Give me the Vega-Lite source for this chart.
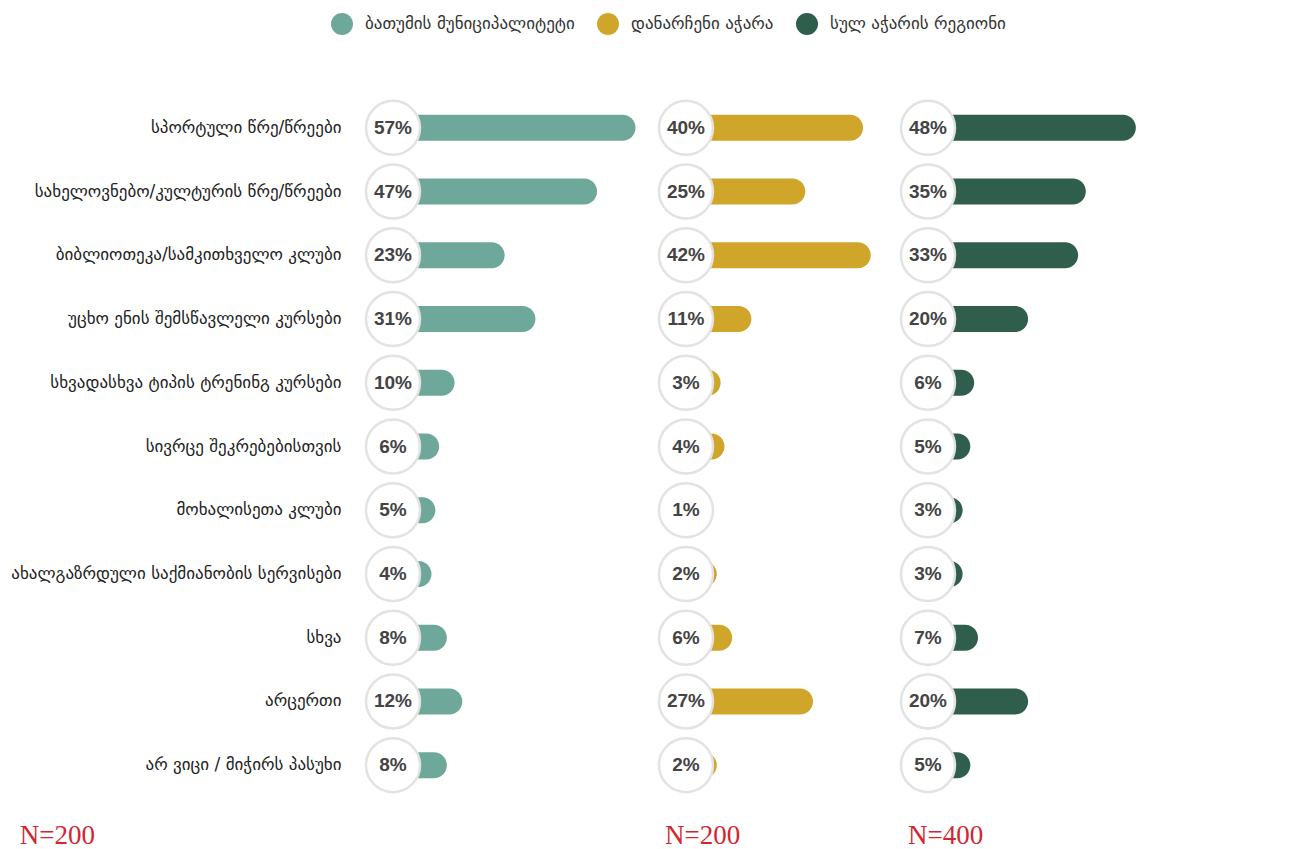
{
  "$schema": "https://vega.github.io/schema/vega-lite/v6.json",
  "background": "white",
  "padding": {"left": 10, "top": 13, "right": 0, "bottom": 0},
  "autosize": {"type": "pad"},
  "bounds": "flush",
  "spacing": 0,
  "config": {"view": {"stroke": null}},
  "datasets": {"d": [
    {"cat": "სპორტული წრე/წრეები", "grp": "ბათუმის მუნიციპალიტეტი", "v": 0.57},
    {"cat": "სპორტული წრე/წრეები", "grp": "დანარჩენი აჭარა", "v": 0.40},
    {"cat": "სპორტული წრე/წრეები", "grp": "სულ აჭარის რეგიონი", "v": 0.48},
    {"cat": "სახელოვნებო/კულტურის წრე/წრეები", "grp": "ბათუმის მუნიციპალიტეტი", "v": 0.47},
    {"cat": "სახელოვნებო/კულტურის წრე/წრეები", "grp": "დანარჩენი აჭარა", "v": 0.25},
    {"cat": "სახელოვნებო/კულტურის წრე/წრეები", "grp": "სულ აჭარის რეგიონი", "v": 0.35},
    {"cat": "ბიბლიოთეკა/სამკითხველო კლუბი", "grp": "ბათუმის მუნიციპალიტეტი", "v": 0.23},
    {"cat": "ბიბლიოთეკა/სამკითხველო კლუბი", "grp": "დანარჩენი აჭარა", "v": 0.42},
    {"cat": "ბიბლიოთეკა/სამკითხველო კლუბი", "grp": "სულ აჭარის რეგიონი", "v": 0.33},
    {"cat": "უცხო ენის შემსწავლელი კურსები", "grp": "ბათუმის მუნიციპალიტეტი", "v": 0.31},
    {"cat": "უცხო ენის შემსწავლელი კურსები", "grp": "დანარჩენი აჭარა", "v": 0.11},
    {"cat": "უცხო ენის შემსწავლელი კურსები", "grp": "სულ აჭარის რეგიონი", "v": 0.20},
    {"cat": "სხვადასხვა ტიპის ტრენინგ კურსები", "grp": "ბათუმის მუნიციპალიტეტი", "v": 0.10},
    {"cat": "სხვადასხვა ტიპის ტრენინგ კურსები", "grp": "დანარჩენი აჭარა", "v": 0.03},
    {"cat": "სხვადასხვა ტიპის ტრენინგ კურსები", "grp": "სულ აჭარის რეგიონი", "v": 0.06},
    {"cat": "სივრცე შეკრებებისთვის", "grp": "ბათუმის მუნიციპალიტეტი", "v": 0.06},
    {"cat": "სივრცე შეკრებებისთვის", "grp": "დანარჩენი აჭარა", "v": 0.04},
    {"cat": "სივრცე შეკრებებისთვის", "grp": "სულ აჭარის რეგიონი", "v": 0.05},
    {"cat": "მოხალისეთა კლუბი", "grp": "ბათუმის მუნიციპალიტეტი", "v": 0.05},
    {"cat": "მოხალისეთა კლუბი", "grp": "დანარჩენი აჭარა", "v": 0.01},
    {"cat": "მოხალისეთა კლუბი", "grp": "სულ აჭარის რეგიონი", "v": 0.03},
    {"cat": "ახალგაზრდული საქმიანობის სერვისები", "grp": "ბათუმის მუნიციპალიტეტი", "v": 0.04},
    {"cat": "ახალგაზრდული საქმიანობის სერვისები", "grp": "დანარჩენი აჭარა", "v": 0.02},
    {"cat": "ახალგაზრდული საქმიანობის სერვისები", "grp": "სულ აჭარის რეგიონი", "v": 0.03},
    {"cat": "სხვა", "grp": "ბათუმის მუნიციპალიტეტი", "v": 0.08},
    {"cat": "სხვა", "grp": "დანარჩენი აჭარა", "v": 0.06},
    {"cat": "სხვა", "grp": "სულ აჭარის რეგიონი", "v": 0.07},
    {"cat": "არცერთი", "grp": "ბათუმის მუნიციპალიტეტი", "v": 0.12},
    {"cat": "არცერთი", "grp": "დანარჩენი აჭარა", "v": 0.27},
    {"cat": "არცერთი", "grp": "სულ აჭარის რეგიონი", "v": 0.20},
    {"cat": "არ ვიცი / მიჭირს პასუხი", "grp": "ბათუმის მუნიციპალიტეტი", "v": 0.08},
    {"cat": "არ ვიცი / მიჭირს პასუხი", "grp": "დანარჩენი აჭარა", "v": 0.02},
    {"cat": "არ ვიცი / მიჭირს პასუხი", "grp": "სულ აჭარის რეგიონი", "v": 0.05}
  ]},
  "resolve": {"scale": {"color": "shared"}},
  "hconcat": [
    {
      "data": {"name": "d"},
      "transform": [{"filter": "datum.grp === 'ბათუმის მუნიციპალიტეტი'"}],
      "width": 295,
      "height": 701,
      "title": {"text": "N=200", "orient": "bottom", "anchor": "start", "dx": 9, "offset": 26, "color": "#d22630", "fontSize": 27, "font": "Liberation Sans Narrow", "fontWeight": "normal"},
      "encoding": {
        "y": {"field": "cat", "type": "nominal", "sort": ["სპორტული წრე/წრეები", "სახელოვნებო/კულტურის წრე/წრეები", "ბიბლიოთეკა/სამკითხველო კლუბი", "უცხო ენის შემსწავლელი კურსები", "სხვადასხვა ტიპის ტრენინგ კურსები", "სივრცე შეკრებებისთვის", "მოხალისეთა კლუბი", "ახალგაზრდული საქმიანობის სერვისები", "სხვა", "არცერთი", "არ ვიცი / მიჭირს პასუხი"], "scale": {"paddingInner": 0, "paddingOuter": 0}, "title": null, "axis": {"domain": false, "ticks": false, "labelPadding": 19, "labelFont": "DejaVu Sans", "labelFontSize": 17, "labelColor": "#222", "labelLimit": 600}}
      },
      "layer": [
        {
          "mark": {"type": "bar", "size": 26, "cornerRadius": 13},
          "encoding": {
            "x": {"field": "v", "type": "quantitative", "scale": {"domain": [-0.1457, 0.6205], "nice": false, "zero": false}, "axis": null},
            "x2": {"datum": -0.06},
            "color": {"field": "grp", "type": "nominal", "scale": {"domain": ["ბათუმის მუნიციპალიტეტი", "დანარჩენი აჭარა", "სულ აჭარის რეგიონი"], "range": ["#6ea89a", "#d0a62a", "#2f5e4d"]}, "legend": {"title": null, "orient": "none", "legendX": -29, "legendY": -83, "direction": "horizontal", "symbolType": "circle", "symbolSize": 484, "symbolStrokeWidth": 0, "labelFont": "DejaVu Sans", "labelFontSize": 17, "labelColor": "#333", "labelOffset": 12, "columnPadding": 22, "padding": 0, "labelLimit": 500}}
          }
        },
        {
          "mark": {"type": "point", "shape": "circle", "size": 2916, "filled": true, "fill": "white", "stroke": "#e3e3e3", "strokeWidth": 2.5, "opacity": 1},
          "encoding": {"x": {"datum": -0.06, "type": "quantitative"}}
        },
        {
          "mark": {"type": "text", "font": "Liberation Sans", "fontWeight": "bold", "fontSize": 19, "color": "#444"},
          "encoding": {
            "x": {"datum": -0.06, "type": "quantitative"},
            "text": {"field": "v", "type": "quantitative", "format": ".0%"}
          }
        }
      ]
    },
    {
      "data": {"name": "d"},
      "transform": [{"filter": "datum.grp === 'დანარჩენი აჭარა'"}],
      "width": 240,
      "height": 701,
      "title": {"text": "N=200", "orient": "bottom", "anchor": "start", "dx": 11, "offset": 26, "color": "#d22630", "fontSize": 27, "font": "Liberation Sans Narrow", "fontWeight": "normal"},
      "encoding": {
        "y": {"field": "cat", "type": "nominal", "sort": ["სპორტული წრე/წრეები", "სახელოვნებო/კულტურის წრე/წრეები", "ბიბლიოთეკა/სამკითხველო კლუბი", "უცხო ენის შემსწავლელი კურსები", "სხვადასხვა ტიპის ტრენინგ კურსები", "სივრცე შეკრებებისთვის", "მოხალისეთა კლუბი", "ახალგაზრდული საქმიანობის სერვისები", "სხვა", "არცერთი", "არ ვიცი / მიჭირს პასუხი"], "scale": {"paddingInner": 0, "paddingOuter": 0}, "axis": null}
      },
      "layer": [
        {
          "mark": {"type": "bar", "size": 26, "cornerRadius": 13},
          "encoding": {
            "x": {"field": "v", "type": "quantitative", "scale": {"domain": [-0.1405, 0.4829], "nice": false, "zero": false}, "axis": null},
            "x2": {"datum": -0.06},
            "color": {"field": "grp", "type": "nominal", "scale": {"domain": ["ბათუმის მუნიციპალიტეტი", "დანარჩენი აჭარა", "სულ აჭარის რეგიონი"], "range": ["#6ea89a", "#d0a62a", "#2f5e4d"]}, "legend": {"title": null, "orient": "none", "legendX": -29, "legendY": -83, "direction": "horizontal", "symbolType": "circle", "symbolSize": 484, "symbolStrokeWidth": 0, "labelFont": "DejaVu Sans", "labelFontSize": 17, "labelColor": "#333", "labelOffset": 12, "columnPadding": 22, "padding": 0, "labelLimit": 500}}
          }
        },
        {
          "mark": {"type": "point", "shape": "circle", "size": 2916, "filled": true, "fill": "white", "stroke": "#e3e3e3", "strokeWidth": 2.5, "opacity": 1},
          "encoding": {"x": {"datum": -0.06, "type": "quantitative"}}
        },
        {
          "mark": {"type": "text", "font": "Liberation Sans", "fontWeight": "bold", "fontSize": 19, "color": "#444"},
          "encoding": {
            "x": {"datum": -0.06, "type": "quantitative"},
            "text": {"field": "v", "type": "quantitative", "format": ".0%"}
          }
        }
      ]
    },
    {
      "data": {"name": "d"},
      "transform": [{"filter": "datum.grp === 'სულ აჭარის რეგიონი'"}],
      "width": 268,
      "height": 701,
      "title": {"text": "N=400", "orient": "bottom", "anchor": "start", "dx": 13, "offset": 26, "color": "#d22630", "fontSize": 27, "font": "Liberation Sans Narrow", "fontWeight": "normal"},
      "encoding": {
        "y": {"field": "cat", "type": "nominal", "sort": ["სპორტული წრე/წრეები", "სახელოვნებო/კულტურის წრე/წრეები", "ბიბლიოთეკა/სამკითხველო კლუბი", "უცხო ენის შემსწავლელი კურსები", "სხვადასხვა ტიპის ტრენინგ კურსები", "სივრცე შეკრებებისთვის", "მოხალისეთა კლუბი", "ახალგაზრდული საქმიანობის სერვისები", "სხვა", "არცერთი", "არ ვიცი / მიჭირს პასუხი"], "scale": {"paddingInner": 0, "paddingOuter": 0}, "axis": null}
      },
      "layer": [
        {
          "mark": {"type": "bar", "size": 26, "cornerRadius": 13},
          "encoding": {
            "x": {"field": "v", "type": "quantitative", "scale": {"domain": [-0.1457, 0.5504], "nice": false, "zero": false}, "axis": null},
            "x2": {"datum": -0.06},
            "color": {"field": "grp", "type": "nominal", "scale": {"domain": ["ბათუმის მუნიციპალიტეტი", "დანარჩენი აჭარა", "სულ აჭარის რეგიონი"], "range": ["#6ea89a", "#d0a62a", "#2f5e4d"]}, "legend": {"title": null, "orient": "none", "legendX": -29, "legendY": -83, "direction": "horizontal", "symbolType": "circle", "symbolSize": 484, "symbolStrokeWidth": 0, "labelFont": "DejaVu Sans", "labelFontSize": 17, "labelColor": "#333", "labelOffset": 12, "columnPadding": 22, "padding": 0, "labelLimit": 500}}
          }
        },
        {
          "mark": {"type": "point", "shape": "circle", "size": 2916, "filled": true, "fill": "white", "stroke": "#e3e3e3", "strokeWidth": 2.5, "opacity": 1},
          "encoding": {"x": {"datum": -0.06, "type": "quantitative"}}
        },
        {
          "mark": {"type": "text", "font": "Liberation Sans", "fontWeight": "bold", "fontSize": 19, "color": "#444"},
          "encoding": {
            "x": {"datum": -0.06, "type": "quantitative"},
            "text": {"field": "v", "type": "quantitative", "format": ".0%"}
          }
        }
      ]
    }
  ]
}
